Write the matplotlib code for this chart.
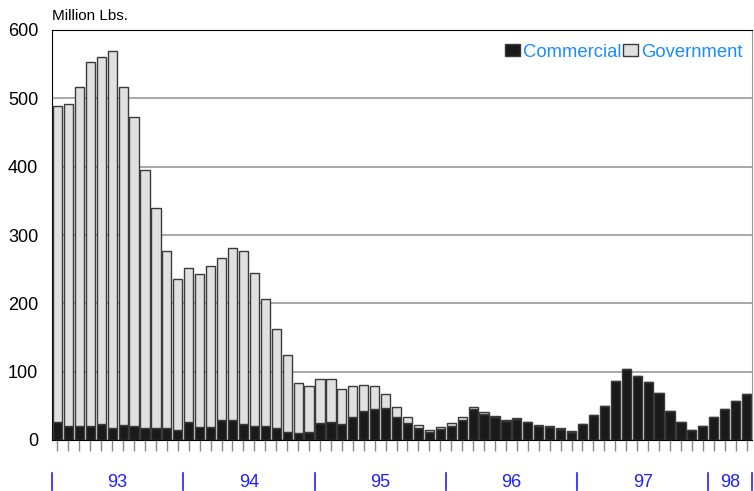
import matplotlib.pyplot as plt
import numpy as np

plt.rcParams['font.family'] = ['Liberation Sans', 'DejaVu Sans']

# monthly stocks, Jan 1993 - Apr 1998 (million lbs)
commercial = [26, 20, 20, 20, 24, 17, 22, 20, 18, 18, 17, 15,
              26, 19, 19, 30, 30, 24, 20, 20, 18, 11, 10, 12,
              25, 26, 23, 33, 42, 46, 47, 34, 25, 18, 11, 16,
              21, 29, 46, 38, 33, 28, 31, 26, 21, 19, 16, 12,
              23, 36, 50, 86, 104, 93, 85, 69, 43, 26, 15, 20,
              34, 45, 57, 68]
government = [463, 472, 497, 533, 536, 553, 495, 453, 377, 322, 259, 220,
              225, 224, 235, 236, 251, 252, 225, 187, 145, 114, 74, 67,
              64, 63, 51, 46, 39, 33, 21, 15, 8, 4.5, 4, 3,
              3.5, 5, 2, 2.5, 1.5, 2, 1, 1, 1, 1, 1, 1,
              0, 0, 0, 0, 0, 0, 0, 0, 0, 0, 0, 0,
              0, 0, 0, 0]
years = ['93', '94', '95', '96', '97', '98']
months_in_year = [12, 12, 12, 12, 12, 4]

x = np.arange(len(commercial))

fig = plt.figure(figsize=(7.54, 4.91), dpi=100)
ax = fig.add_axes([52/754, 1 - 440/491, 700/754, 410/491])

ax.bar(x, commercial, width=0.84, color='#1a1a1a', edgecolor='#3a3a3a',
       linewidth=1, label='Commercial', zorder=3)
ax.bar(x, government, width=0.84, bottom=commercial, color='#e0e0e0',
       edgecolor='#3a3a3a', linewidth=1, label='Government', zorder=3)

ax.set_xlim(-0.5, len(x) - 0.5)
ax.set_ylim(0, 600)
ax.set_yticks(range(0, 601, 100))
ax.tick_params(axis='y', length=0, pad=10, labelsize=13)
ax.set_xticks(x)
ax.set_xticklabels([])
ax.tick_params(axis='x', length=8, color='#888888', width=1)
ax.grid(axis='y', color='#999999', linewidth=1.2, zorder=0)

for side in ['top', 'left', 'bottom']:
    ax.spines[side].set_color('black')
ax.spines['right'].set_color('#999999')

ax.text(0, 1.017, 'Million Lbs.', transform=ax.transAxes, fontsize=11,
        ha='left', va='bottom')

# year separators and labels under the axis
trans = ax.get_xaxis_transform()
start = 0
for yr, n in zip(years, months_in_year):
    ax.plot([start - 0.5, start - 0.5], [-0.08, -0.122], color='#2020ff',
            lw=1.2, transform=trans, clip_on=False)
    ax.text(start + n / 2 - 0.5, -0.103, yr, transform=trans, color='#2020ff',
            fontsize=13, ha='center', va='center')
    start += n
ax.plot([start - 0.5, start - 0.5], [-0.08, -0.122], color='#2020ff',
        lw=1.2, transform=trans, clip_on=False)

leg = ax.legend(loc='upper right', bbox_to_anchor=(1.0, 0.99), ncol=2,
                frameon=False, fontsize=13.3, handlelength=0.8, handleheight=0.6,
                handletextpad=0.15, columnspacing=0.1, borderaxespad=0.12,
                labelcolor='#1a8cff')

fig.savefig('out.png', dpi=100)
